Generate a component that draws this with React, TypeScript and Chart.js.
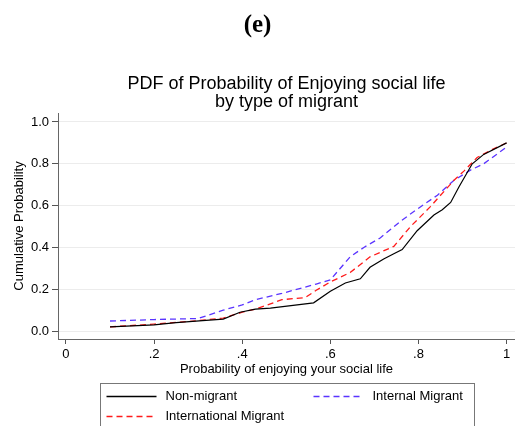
import React, { useEffect, useRef } from "react";
import { Chart, registerables } from "chart.js";

Chart.register(...registerables);

// ---- Data ----
const nonMigrantX = [0.10, 0.20, 0.25, 0.31, 0.357, 0.395, 0.43, 0.464, 0.562, 0.60, 0.634, 0.668, 0.69, 0.721, 0.744, 0.763, 0.797, 0.835, 0.854, 0.873, 0.892, 0.922, 0.948, 1.0];
const nonMigrantY = [0.02, 0.03, 0.04, 0.05, 0.057, 0.09, 0.105, 0.11, 0.135, 0.19, 0.23, 0.25, 0.305, 0.345, 0.37, 0.39, 0.48, 0.555, 0.58, 0.615, 0.69, 0.80, 0.845, 0.90];

const internationalX = [0.10, 0.20, 0.30, 0.357, 0.40, 0.43, 0.464, 0.49, 0.543, 0.568, 0.60, 0.645, 0.69, 0.744, 0.782, 0.827, 0.88, 0.903, 0.933, 0.964, 1.0];
const internationalY = [0.02, 0.033, 0.05, 0.062, 0.09, 0.105, 0.13, 0.15, 0.16, 0.195, 0.235, 0.28, 0.355, 0.405, 0.50, 0.595, 0.72, 0.765, 0.83, 0.865, 0.90];

const internalX = [0.10, 0.20, 0.30, 0.357, 0.40, 0.43, 0.49, 0.568, 0.60, 0.645, 0.676, 0.713, 0.759, 0.805, 0.843, 0.88, 0.918, 0.948, 1.0];
const internalY = [0.048, 0.055, 0.06, 0.10, 0.125, 0.15, 0.18, 0.225, 0.245, 0.355, 0.40, 0.445, 0.525, 0.595, 0.65, 0.72, 0.77, 0.80, 0.88];

const seriesNames = ["Non-migrant", "International Migrant", "Internal Migrant"];

const xTickValues = [0, 0.2, 0.4, 0.6, 0.8, 1.0];
const xTickLabels = ["0", ".2", ".4", ".6", ".8", "1"];
const yTickValues = [0, 0.2, 0.4, 0.6, 0.8, 1.0];
const yTickLabels = ["0.0", "0.2", "0.4", "0.6", "0.8", "1.0"];

const panelTitle = "(e)";
const chartTitle = ["PDF of Probability of Enjoying social life", "by type of migrant"];
const xAxisTitle = "Probability of enjoying your social life";
const yAxisTitle = "Cumulative Probability";

const SANS = "'Liberation Sans', Arial, Helvetica, sans-serif";
const SERIF = "'Liberation Serif', 'Times New Roman', serif";

const toPoints = (xs: number[], ys: number[]) => xs.map((x, i) => ({ x, y: ys[i] }));

const boxLegendPlugin = {
  id: "boxLegend",
  afterDraw(chart: any) {
    const ctx = chart.ctx;
    const area = chart.chartArea;
    const xScale = chart.scales.x;
    const boxW = 374;
    const cx = (area.left + area.right) / 2;
    const left = Math.round(cx - boxW / 2) + 0.5;
    const top = Math.round(xScale.bottom + 6) + 0.5;
    ctx.save();
    ctx.strokeStyle = "#777777";
    ctx.lineWidth = 1;
    ctx.setLineDash([]);
    ctx.strokeRect(left, top, boxW, 80);
    // entry layout: [datasetIndex, col, row]
    const layout = [
      [0, 0, 0],
      [2, 1, 0],
      [1, 0, 1],
    ];
    ctx.font = `13px ${SANS}`;
    ctx.textBaseline = "middle";
    ctx.textAlign = "left";
    for (const [di, col, row] of layout) {
      const ds = chart.data.datasets[di];
      const lx = left + 6 + col * 207;
      const ly = Math.round(top + 12 + row * 20) + 0.5;
      ctx.beginPath();
      ctx.strokeStyle = ds.borderColor;
      ctx.lineWidth = 1.3;
      ctx.setLineDash(ds.borderDash || []);
      ctx.moveTo(lx, ly);
      ctx.lineTo(lx + 50, ly);
      ctx.stroke();
      ctx.setLineDash([]);
      ctx.fillStyle = "#000000";
      ctx.fillText(ds.label, lx + 59, ly);
    }
    ctx.restore();
  },
};

export default function App() {
  const canvasRef = useRef<HTMLCanvasElement | null>(null);

  useEffect(() => {
    const canvas = canvasRef.current;
    if (!canvas) return;
    const chart = new Chart(canvas, {
      type: "line",
      data: {
        datasets: [
          {
            label: seriesNames[0],
            data: toPoints(nonMigrantX, nonMigrantY),
            borderColor: "#000000",
            borderWidth: 1.2,
            pointRadius: 0,
            tension: 0,
          },
          {
            label: seriesNames[1],
            data: toPoints(internationalX, internationalY),
            borderColor: "#ff1a1a",
            borderWidth: 1.3,
            borderDash: [6, 4],
            pointRadius: 0,
            tension: 0,
          },
          {
            label: seriesNames[2],
            data: toPoints(internalX, internalY),
            borderColor: "#5a34ff",
            borderWidth: 1.3,
            borderDash: [6, 4],
            pointRadius: 0,
            tension: 0,
          },
        ],
      },
      options: {
        responsive: false,
        animation: false,
        devicePixelRatio: 1,
        layout: { padding: { left: 0, right: 0, top: 0, bottom: 49 } },
        plugins: {
          legend: { display: false },
          tooltip: { enabled: false },
          title: {
            display: true,
            text: panelTitle,
            color: "#000000",
            font: { family: SERIF, size: 25, weight: "bold", lineHeight: 1.2 },
            padding: { top: 11, bottom: 0 },
          },
          subtitle: {
            display: true,
            text: chartTitle,
            color: "#000000",
            fullSize: false,
            font: { family: SANS, size: 18, weight: "normal", lineHeight: 1.0 },
            padding: { top: 34, bottom: 2 },
          },
        },
        scales: {
          x: {
            type: "linear",
            min: -0.018,
            max: 1.019,
            afterBuildTicks: (scale: any) => {
              scale.ticks = xTickValues.map((v) => ({ value: v }));
            },
            afterFit: (scale: any) => {
              scale.height = 38;
            },
            ticks: {
              color: "#000000",
              font: { family: SANS, size: 13 },
              padding: 3,
              maxRotation: 0,
              autoSkip: false,
              callback: (v: any) => {
                const i = xTickValues.findIndex((t) => Math.abs(t - v) < 1e-6);
                return i >= 0 ? xTickLabels[i] : "";
              },
            },
            grid: {
              drawOnChartArea: false,
              drawTicks: true,
              tickLength: 5,
              tickColor: "#555555",
              lineWidth: 1,
            },
            border: { display: true, color: "#666666", width: 1 },
            title: {
              display: true,
              text: xAxisTitle,
              color: "#000000",
              font: { family: SANS, size: 13 },
              padding: { top: 0, bottom: 0 },
            },
          },
          y: {
            type: "linear",
            min: -0.038,
            max: 1.043,
            afterBuildTicks: (scale: any) => {
              scale.ticks = yTickValues.map((v) => ({ value: v }));
            },
            afterFit: (scale: any) => {
              scale.width = 58;
            },
            ticks: {
              color: "#000000",
              font: { family: SANS, size: 13 },
              padding: 3,
              autoSkip: false,
              callback: (v: any) => {
                const i = yTickValues.findIndex((t) => Math.abs(t - v) < 1e-6);
                return i >= 0 ? yTickLabels[i] : "";
              },
            },
            grid: {
              drawOnChartArea: true,
              color: "#ececec",
              lineWidth: 1,
              drawTicks: true,
              tickLength: 6,
              tickColor: "#555555",
            },
            border: { display: true, color: "#666666", width: 1 },
            title: {
              display: true,
              text: yAxisTitle,
              color: "#000000",
              font: { family: SANS, size: 13 },
              padding: { top: 12, bottom: 0 },
            },
          },
        },
      },
      plugins: [boxLegendPlugin],
    } as any);
    return () => chart.destroy();
  }, []);

  return (
    <div style={{ position: "absolute", left: 0, top: 0, width: 515, height: 426, background: "#ffffff" }}>
      <canvas ref={canvasRef} width={515} height={426} style={{ display: "block" }} />
    </div>
  );
}
